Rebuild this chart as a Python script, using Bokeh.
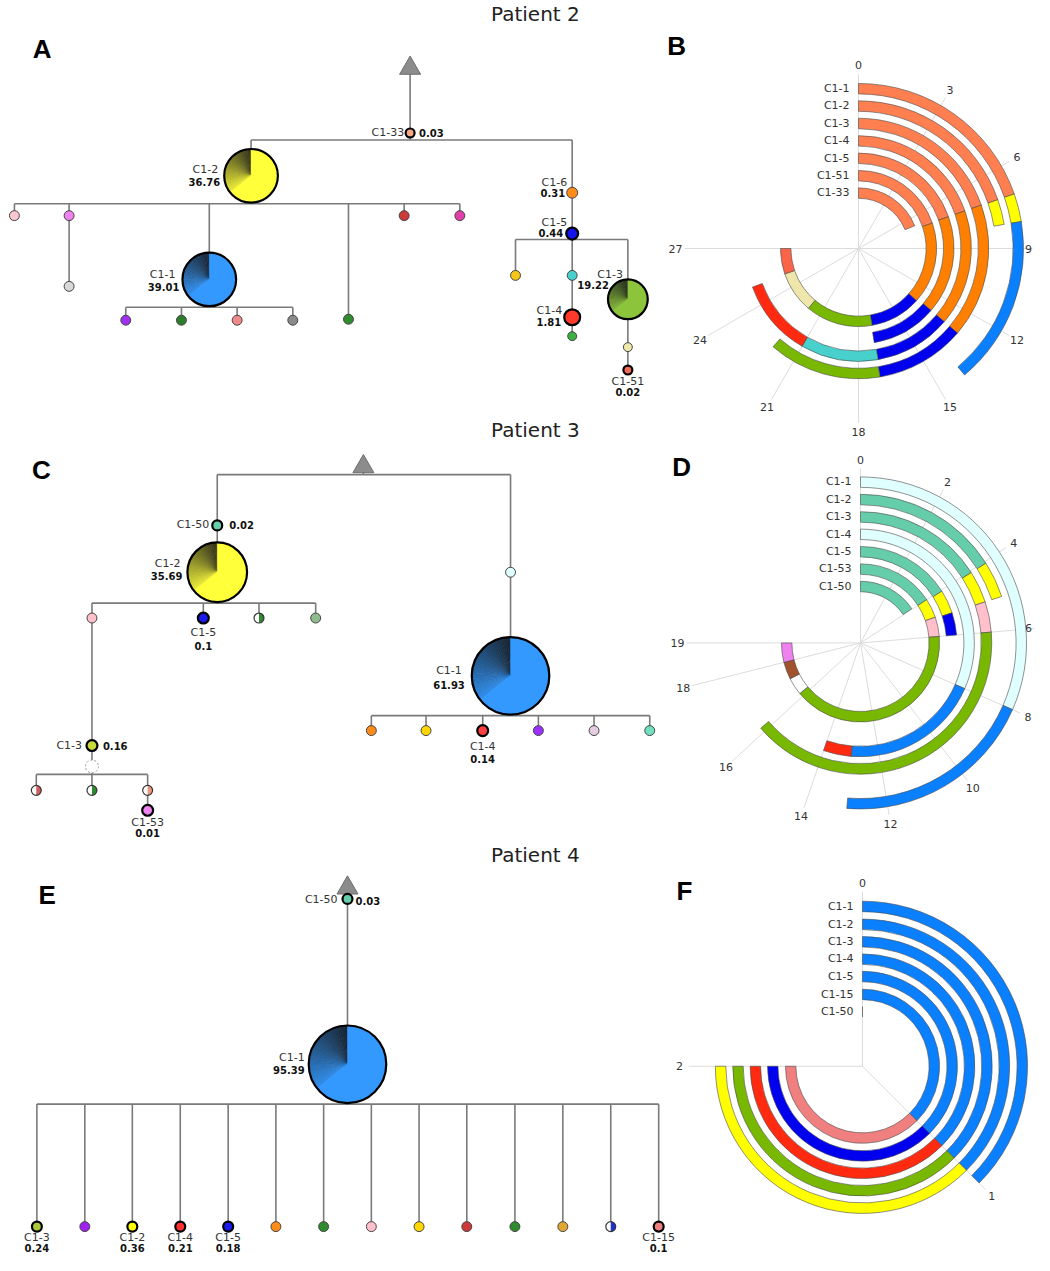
import math
from bokeh.plotting import figure
from bokeh.models import Range1d
from bokeh.core.properties import value
from bokeh.embed import file_html
from bokeh.resources import INLINE

# ------------------------------------------------------------------ data
TITLES = ["Patient 2", "Patient 3", "Patient 4"]
PANEL_LETTERS = ["A", "B", "C", "D", "E", "F"]

# ---- tree A (Patient 2)
A_ids = ["root", "C1-33", "C1-2", "a1", "a2", "a2c", "C1-1", "a4", "a5", "a6",
         "b1", "b2", "b3", "b4", "C1-6", "C1-5", "d1", "d2", "C1-4", "d3",
         "C1-3", "e1", "C1-51"]
A_parent = [None, "root", "C1-33", "C1-2", "C1-2", "a2", "C1-2", "C1-2", "C1-2", "C1-2",
            "C1-1", "C1-1", "C1-1", "C1-1", "C1-33", "C1-6", "C1-5", "C1-5", "d2", "C1-4",
            "C1-5", "C1-3", "e1"]
A_value = [None, 0.03, 36.76, None, None, None, 39.01, None, None, None,
           None, None, None, None, 0.31, 0.44, None, None, 1.81, None,
           19.22, None, 0.02]
A_color = ["#8c8c8c", "#f6a884", "#ffff3a", "#fcc8d0", "#ee82ee", "#d8d8d8", "#3399ff",
           "#2e8b2e", "#cd3a3a", "#e040a8", "#a030f0", "#2e7d2e", "#f08a8a", "#8a8a8a",
           "#ff8c1a", "#1414ee", "#f5c518", "#48d1cc", "#ff3a2a", "#3cb043",
           "#8cc43c", "#eee8aa", "#f46a5a"]
A_kind = ["root", "thick", "pie", "node", "node", "node", "pie", "node", "node", "node",
          "node", "node", "node", "node", "node", "thick", "node", "node", "thick", "node",
          "pie", "node", "thick"]

# ---- tree C (Patient 3)
C_ids = ["root", "C1-50", "C1-2", "c1", "C1-5", "c3", "c4", "C1-3", "cd", "h1", "h2", "h3",
         "C1-53", "cr", "C1-1", "g1", "g2", "C1-4", "g4", "g5", "g6"]
C_parent = [None, "root", "C1-50", "C1-2", "C1-2", "C1-2", "C1-2", "c1", "C1-3", "cd", "cd", "cd",
            "h3", "root", "cr", "C1-1", "C1-1", "C1-1", "C1-1", "C1-1", "C1-1"]
C_value = [None, 0.02, 35.69, None, 0.1, None, None, 0.16, None, None, None, None,
           0.01, None, 61.93, None, None, 0.14, None, None, None]
C_color = ["#8c8c8c", "#66cdaa", "#ffff3a", "#ffc0cb", "#1a1aee", "#2e8b2e", "#8fbc8f",
           "#c5dc3a", "#ffffff", "#cd5c5c", "#2e8b2e", "#e9967a", "#ee82ee", "#e0ffff",
           "#3399ff", "#ff8c1a", "#ffd700", "#ff4040", "#9b30ff", "#e6cce0", "#70e0c0"]
C_kind = ["root", "thick", "pie", "node", "thick", "half", "node", "thick", "dashed",
          "half", "half", "half", "thick", "node", "pie", "node", "node", "thick",
          "node", "node", "node"]

# ---- tree E (Patient 4)
E_ids = ["root", "C1-50", "C1-1", "C1-3", "k2", "C1-2", "C1-4", "C1-5", "k6", "k7", "k8",
         "k9", "k10", "k11", "k12", "k13", "C1-15"]
E_parent = [None, "root", "C1-50"] + ["C1-1"] * 14
E_value = [None, 0.03, 95.39, 0.24, None, 0.36, 0.21, 0.18, None, None, None,
           None, None, None, None, None, 0.1]
E_color = ["#8c8c8c", "#66cdaa", "#3399ff", "#a8c83a", "#a020f0", "#ffff00", "#ff3030",
           "#1a1aee", "#ff8c1a", "#2e8b2e", "#ffc0cb", "#ffd700", "#cd3a3a", "#2e8b2e",
           "#e0a830", "#2030d0", "#f08080"]
E_kind = ["root", "thick", "pie", "thick", "node", "thick", "thick", "thick", "node", "node",
          "node", "node", "node", "node", "node", "half", "thick"]

# ---- radial panels: rings (outer to inner) and segments (start, end, colour)
B_rings = ["C1-1", "C1-2", "C1-3", "C1-4", "C1-5", "C1-51", "C1-33"]
B_segments = [
    [(0, 7.07, "#ff7f50"), (7.07, 8.06, "#ffff00"), (8.06, 14.0, "#0a80ff")],
    [(0, 7.07, "#ff7f50"), (7.07, 8.06, "#ffff00")],
    [(0, 7.05, "#ff7f50"), (7.05, 13.05, "#ff8000"), (13.05, 17.05, "#0000ee"), (17.05, 22.1, "#78b800")],
    [(0, 7.05, "#ff7f50"), (7.05, 13.05, "#ff8000"), (13.05, 17.0, "#0000ee"), (17.0, 21.0, "#48d1cc"), (21.0, 25.0, "#ff2a10")],
    [(0, 7.05, "#ff7f50"), (7.05, 13.05, "#ff8000"), (13.05, 17.05, "#0000ee")],
    [(0, 7.1, "#ff7f50"), (7.1, 13.2, "#ff8000"), (13.2, 17.0, "#0000ee"), (17.0, 22.0, "#78b800"), (22.0, 25.1, "#eee6aa"), (25.1, 27.0, "#fa6448")],
    [(0, 6.8, "#ff7f50")],
]
B_ticks = [0, 3, 6, 9, 12, 15, 18, 21, 24, 27]
B_max = 36

D_rings = ["C1-1", "C1-2", "C1-3", "C1-4", "C1-5", "C1-53", "C1-50"]
D_segments = [
    [(0, 8.0, "#e0ffff"), (8.0, 13.0, "#0a80ff")],
    [(0, 4.05, "#66cdaa"), (4.05, 5.05, "#ffff00")],
    [(0, 4.05, "#66cdaa"), (4.05, 5.05, "#ffff00"), (5.05, 6.0, "#ffc0cb"), (6.0, 16.15, "#78b800")],
    [(0, 8.0, "#e0ffff"), (8.0, 13.0, "#0a80ff"), (13.0, 14.0, "#ff2a10")],
    [(0, 4.05, "#66cdaa"), (4.05, 5.05, "#ffff00"), (5.05, 6.0, "#0000ee")],
    [(0, 4.0, "#66cdaa"), (4.0, 5.0, "#ffff00"), (5.0, 6.0, "#ffc0cb"), (6.0, 16.2, "#78b800"),
     (16.2, 17.1, "#ffffff"), (17.1, 18.0, "#a0522d"), (18.0, 19.0, "#ee82ee")],
    [(0, 3.96, "#66cdaa")],
]
D_ticks = [0, 2, 4, 6, 8, 10, 12, 14, 16, 18, 19]
D_max = 19 * 4 / 3

F_rings = ["C1-1", "C1-2", "C1-3", "C1-4", "C1-5", "C1-15", "C1-50"]
F_segments = [
    [(0, 1.0, "#0a80ff")],
    [(0, 1.0, "#0a80ff"), (1.0, 2.0, "#ffff00")],
    [(0, 1.0, "#0a80ff"), (1.0, 2.0, "#78b800")],
    [(0, 1.0, "#0a80ff"), (1.0, 2.0, "#ff2a10")],
    [(0, 1.0, "#0a80ff"), (1.0, 2.0, "#0000ee")],
    [(0, 1.0, "#0a80ff"), (1.0, 2.0, "#f08080")],
    [],
]
F_ticks = [0, 1, 2]
F_max = 2 * 4 / 3

# ------------------------------------------------------------------ layout (reference pixel space)
TITLE_POS = [(538, 18), (538, 435), (538, 862)]
LETTER_POS = [(42, 53), (680, 50), (41, 475), (685, 472), (47, 902), (688, 898)]

A_pos = {"root": (412, 72, 0), "C1-33": (412, 137, 4.5), "C1-2": (252, 180, 27),
         "a1": (14, 220, 5), "a2": (69, 220, 5), "a2c": (69, 291, 5), "C1-1": (210, 284, 27),
         "a4": (350, 324, 5), "a5": (406, 220, 5), "a6": (462, 220, 5),
         "b1": (126, 325, 5), "b2": (182, 325, 5), "b3": (238, 325, 5), "b4": (294, 325, 5),
         "C1-6": (575, 197, 5.5), "C1-5": (575, 238, 6), "d1": (518, 280, 5), "d2": (575, 280, 5),
         "C1-4": (575, 322, 8), "d3": (575, 341, 4.5), "C1-3": (631, 304, 20),
         "e1": (631, 352, 4.5), "C1-51": (631, 375, 4.5)}
A_bar = {"C1-33": 144, "C1-2": 208, "C1-1": 312, "C1-5": 244}
A_lab = {"C1-33": ((406, 137, "right"), (421, 137, "left")),
         "C1-2": ((219, 174, "right"), (221, 186, "right")),
         "C1-1": ((176, 279, "right"), (180, 292, "right")),
         "C1-6": ((570, 187, "right"), (568, 197, "right")),
         "C1-5": ((570, 227, "right"), (566, 237, "right")),
         "C1-4": ((565, 315, "right"), (564, 327, "right")),
         "C1-3": ((626, 279, "right"), (612, 290, "right")),
         "C1-51": ((631, 387, "center"), (631, 397, "center"))}

C_pos = {"root": (365, 472, 0), "C1-50": (218, 531, 5), "C1-2": (218, 578, 30),
         "c1": (92, 624, 5), "C1-5": (204, 624, 5.5), "c3": (260, 624, 5), "c4": (317, 624, 5),
         "C1-3": (92, 752, 5.5), "cd": (92, 773, 6.5),
         "h1": (36, 797, 5), "h2": (92, 797, 5), "h3": (148, 797, 5), "C1-53": (148, 817, 5.5),
         "cr": (513, 578, 5), "C1-1": (513, 682, 39),
         "g1": (373, 737, 5), "g2": (428, 737, 5), "C1-4": (485, 737, 5.5),
         "g4": (541, 737, 5), "g5": (597, 737, 5), "g6": (653, 737, 5)}
C_bar = {"root": 480, "C1-2": 609, "cd": 781, "C1-1": 722}
C_lab = {"C1-50": ((210, 530, "right"), (230, 531, "left")),
         "C1-2": ((181, 569, "right"), (183, 582, "right")),
         "C1-5": ((204, 639, "center"), (204, 652, "center")),
         "C1-3": ((82, 752, "right"), (103, 752, "left")),
         "C1-53": ((148, 829, "center"), (148, 840, "center")),
         "C1-1": ((464, 677, "right"), (467, 691, "right")),
         "C1-4": ((485, 753, "center"), (485, 766, "center"))}

E_child_x = [36.6, 84.8, 132.6, 180.8, 229, 277, 325, 373, 421, 469, 517.4, 565.6, 613.8, 662]
E_pos = {"root": (349, 895, 0), "C1-50": (349, 906, 5), "C1-1": (349, 1072, 39)}
for cid, cx in zip(E_ids[3:], E_child_x):
    E_pos[cid] = (cx, 1235, 5)
E_bar = {"C1-1": 1112}
E_lab = {"C1-50": ((339, 907, "right"), (357, 908, "left")),
         "C1-1": ((306, 1065, "right"), (306, 1078, "right"))}
for cid in ["C1-3", "C1-2", "C1-4", "C1-5", "C1-15"]:
    cx = E_pos[cid][0]
    E_lab[cid] = ((cx, 1246, "center"), (cx, 1256, "center"))

RADIAL_CENTER = {"B": (863, 253), "D": (865, 649), "F": (867, 1074)}
RING_OUTER = {"B": [166, 148.5, 131, 113.5, 96, 78.5, 61],
              "D": [167, 149.5, 132, 114.5, 97, 79.5, 62],
              "F": [166, 148, 130.5, 113, 95.5, 77.5, 60]}
RING_W = 10.5

# ------------------------------------------------------------------ figure
W, H = 1034, 1255
X_MAX = 1040
p = figure(width=W, height=H, output_backend="svg", toolbar_location=None,
           x_range=Range1d(0, X_MAX), y_range=Range1d(-1264, -4))
p.axis.visible = False
p.grid.visible = False
p.outline_line_color = None
p.background_fill_color = "white"
p.min_border = 0

FONT = value("DejaVu Sans")
LINE_COL = "#7a7a7a"


def hexmix(c1, c2, t):
    a = [int(c1[i:i + 2], 16) for i in (1, 3, 5)]
    b = [int(c2[i:i + 2], 16) for i in (1, 3, 5)]
    return "#%02x%02x%02x" % tuple(int(round(a[k] + (b[k] - a[k]) * t)) for k in range(3))


def draw_tree(ids, parent, vals, cols, kinds, pos, bars, labs):
    # edges
    children = {}
    for i, par in zip(ids, parent):
        if par is not None:
            children.setdefault(par, []).append(i)
    xs, ys = [], []
    for par, ch in children.items():
        px, py, _ = pos[par]
        if par in bars:
            by = bars[par]
            xs.append([px, px]); ys.append([-py, -by])
            allx = [pos[c][0] for c in ch] + [px]
            xs.append([min(allx), max(allx)]); ys.append([-by, -by])
            for c in ch:
                xs.append([pos[c][0]] * 2); ys.append([-by, -pos[c][1]])
        else:
            for c in ch:
                xs.append([px, pos[c][0]]); ys.append([-py, -pos[c][1]])
    p.multi_line(xs=xs, ys=ys, line_color=LINE_COL, line_width=1.6)

    # nodes
    for i, col, kind in zip(ids, cols, kinds):
        x, y, r = pos[i]
        y = -y
        if kind == "root":
            p.scatter([x], [y], marker="triangle", size=21, fill_color=col,
                      line_color="#6e6e6e", line_width=1)
        elif kind == "pie":
            n = 30
            span = 128.0
            st, en, cc = [], [], []
            for k in range(n):
                t = (k + 0.5) / n
                cc.append(hexmix("#151515", col, 0.12 + 0.78 * t))
                st.append(math.radians(90 + span * k / n))
                en.append(math.radians(90 + span * (k + 1) / n + 0.6))
            p.wedge(x=[x] * n, y=[y] * n, radius=r, start_angle=st, end_angle=en,
                    fill_color=cc, line_color=cc, line_width=0.5)
            p.wedge(x=[x], y=[y], radius=r, start_angle=[math.radians(90 + span)],
                    end_angle=[math.radians(450)], fill_color=col, line_color=col, line_width=0.5)
            p.circle(x=[x], y=[y], radius=r, fill_color=None, line_color="black", line_width=2.2)
        elif kind == "dashed":
            p.circle(x=[x], y=[y], radius=r, fill_color="white", line_color="#9a9a9a",
                     line_width=1, line_dash="2 2")
        elif kind == "half":
            p.circle(x=[x], y=[y], radius=r, fill_color="white", line_color=None)
            p.wedge(x=[x], y=[y], radius=r, start_angle=[-math.pi / 2], end_angle=[math.pi / 2],
                    fill_color=col, line_color=None)
            p.circle(x=[x], y=[y], radius=r, fill_color=None, line_color="#333333", line_width=1.2)
        elif kind == "thick":
            p.circle(x=[x], y=[y], radius=r, fill_color=col, line_color="black", line_width=2.2)
        else:
            p.circle(x=[x], y=[y], radius=r, fill_color=col, line_color="#444444", line_width=1)

    # labels
    for i, v in zip(ids, vals):
        if i not in labs:
            continue
        (nx, ny, na), (vx, vy, va) = labs[i]
        p.text(x=[nx], y=[-ny], text=[i], text_align=na, text_baseline="middle",
               text_font=FONT, text_font_size="11px", text_color="#333333")
        p.text(x=[vx], y=[-vy], text=[str(v)], text_align=va, text_baseline="middle",
               text_font=FONT, text_font_size="10px", text_font_style="bold",
               text_color="#111111")


def draw_radial(key, rings, segs, ticks, vmax):
    cx, cy = RADIAL_CENTER[key]
    cy = -cy

    def ang(v):
        return math.pi / 2 - 2 * math.pi * v / vmax

    # spokes and tick labels
    x0, y0, x1, y1 = [], [], [], []
    tx, ty, tt = [], [], []
    for t in ticks:
        a = ang(t)
        x0.append(cx); y0.append(cy)
        x1.append(cx + 175 * math.cos(a)); y1.append(cy + 175 * math.sin(a))
        lx = cx + 184 * math.cos(a)
        lx = min(lx, X_MAX - 6)          # keep edge labels inside the page
        tx.append(lx); ty.append(cy + 184 * math.sin(a)); tt.append(str(t))
    p.segment(x0=x0, y0=y0, x1=x1, y1=y1, line_color="#dcdcdc", line_width=1)
    p.text(x=tx, y=ty, text=tt, text_align="center", text_baseline="middle",
           text_font=FONT, text_font_size="11px", text_color="#333333")

    # bars
    xs, ys, ir, orr, sa, ea, cc = [], [], [], [], [], [], []
    for ring, outer, sl in zip(rings, RING_OUTER[key], segs):
        for (a, b, col) in sl:
            xs.append(cx); ys.append(cy)
            ir.append(outer - RING_W); orr.append(outer)
            sa.append(ang(b)); ea.append(ang(a)); cc.append(col)
        if not sl:
            p.segment(x0=[cx], y0=[cy + outer - RING_W], x1=[cx], y1=[cy + outer],
                      line_color="#555555", line_width=0.8)
    p.annular_wedge(x=xs, y=ys, inner_radius=ir, outer_radius=orr, start_angle=sa,
                    end_angle=ea, fill_color=cc, line_color="#4a4a4a", line_width=0.6)

    # ring labels
    lx = [cx - 9] * len(rings)
    ly = [cy + o - RING_W / 2 for o in RING_OUTER[key]]
    p.text(x=lx, y=ly, text=rings, text_align="right", text_baseline="middle",
           text_font=FONT, text_font_size="11px", text_color="#333333")


draw_tree(A_ids, A_parent, A_value, A_color, A_kind, A_pos, A_bar, A_lab)
draw_tree(C_ids, C_parent, C_value, C_color, C_kind, C_pos, C_bar, C_lab)
draw_tree(E_ids, E_parent, E_value, E_color, E_kind, E_pos, E_bar, E_lab)
draw_radial("B", B_rings, B_segments, B_ticks, B_max)
draw_radial("D", D_rings, D_segments, D_ticks, D_max)
draw_radial("F", F_rings, F_segments, F_ticks, F_max)

p.text(x=[t[0] for t in TITLE_POS], y=[-t[1] for t in TITLE_POS], text=TITLES,
       text_align="center", text_baseline="middle", text_font=FONT,
       text_font_size="20px", text_color="#222222")
p.text(x=[t[0] for t in LETTER_POS], y=[-t[1] for t in LETTER_POS], text=PANEL_LETTERS,
       text_align="center", text_baseline="middle", text_font=value("Liberation Sans"),
       text_font_size="26px", text_font_style="bold", text_color="black")

open("out.html", "w").write(file_html(p, INLINE))
